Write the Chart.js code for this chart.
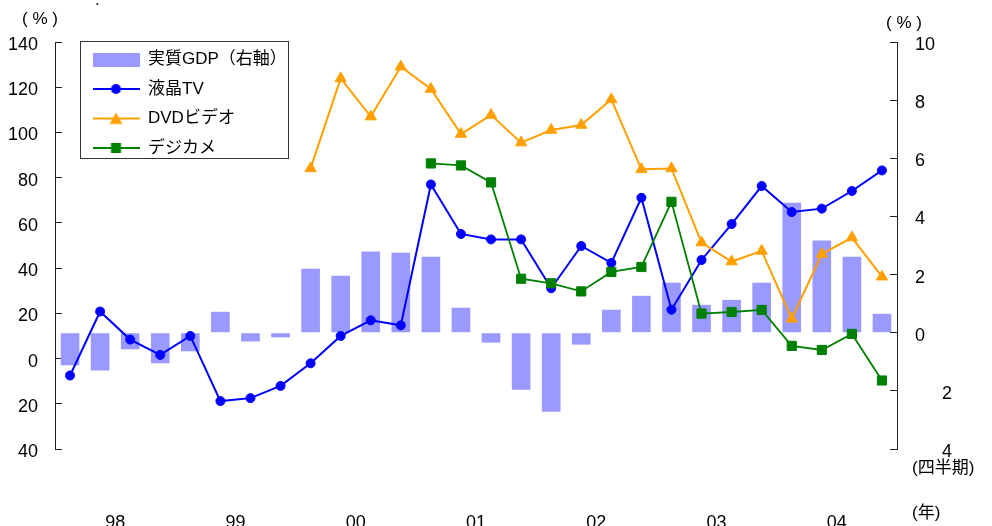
<!DOCTYPE html>
<html>
<head>
<meta charset="utf-8">
<script src="https://cdn.jsdelivr.net/npm/chart.js@4"></script>
<style>
body { margin: 0; background: #fff; }
#wrap { position: relative; width: 992px; height: 526px; overflow: hidden;
        font-family: "Liberation Sans", "Noto Sans CJK JP", sans-serif; }
#chart { position: absolute; left: 0; top: 0; }
.note { position: absolute; font-size: 17px; line-height: 1; color: #000; white-space: pre; }
</style>
</head>
<body>
<div id="wrap">
  <canvas id="chart" width="992" height="526"></canvas>
  <div class="note" style="left:95px;top:-9px">.</div>
  <div class="note" style="left:22px;top:10px">( % )</div>
  <div class="note" style="left:886px;top:14px">( % )</div>
  <div class="note" style="left:912px;top:459px">(四半期)</div>
  <div class="note" style="left:912px;top:504px">(年)</div>
</div>
<script>
// quarterly categories, 1998 Q1 .. 2004 Q4
const quarters = [
  '98Q1', '98Q2', '98Q3', '98Q4', '99Q1', '99Q2', '99Q3', '99Q4',
  '00Q1', '00Q2', '00Q3', '00Q4', '01Q1', '01Q2', '01Q3', '01Q4',
  '02Q1', '02Q2', '02Q3', '02Q4', '03Q1', '03Q2', '03Q3', '03Q4',
  '04Q1', '04Q2', '04Q3', '04Q4'
];
const years = ['98', '99', '00', '01', '02', '03', '04'];

// real GDP growth (right axis, %)
const gdp = [
  -1.12, -1.3, -0.57, -1.05, -0.64, 0.72, -0.3, -0.16,
  2.2, 1.96, 2.79, 2.75, 2.61, 0.86, -0.34, -1.96,
  -2.72, -0.41, 0.79, 1.27, 1.72, 0.96, 1.13, 1.72,
  4.47, 3.17, 2.61, 0.65
];
// LCD TV (left axis, %)
const lcdTv = [
  -7.5, 20.8, 8.4, 1.6, 10.0, -18.8, -17.5, -12.1,
  -2.1, 10.0, 16.9, 14.7, 77.0, 55.1, 52.7, 52.7,
  31.1, 49.8, 42.3, 71.1, 21.6, 43.6, 59.5, 76.3,
  64.8, 66.3, 74.1, 83.2
];
// DVD video
const dvdVideo = [
  null, null, null, null, null, null, null, null,
  84.1, 123.9, 107.0, 129.1, 119.2, 99.3, 107.7, 95.5,
  101.1, 103.3, 114.6, 83.7, 84.1, 51.3, 42.9, 47.6,
  17.6, 46.2, 53.5, 36.2
];
// digital camera
const digiCam = [
  null, null, null, null, null, null, null, null,
  null, null, null, null, 86.3, 85.4, 77.9, 35.3,
  33.3, 29.7, 38.3, 40.5, 69.3, 19.9, 20.6, 21.5,
  5.6, 3.8, 10.9, -9.7
];

const FONT = '"Liberation Sans", "Noto Sans CJK JP", sans-serif';
const BAR = '#9999FF', BLUE = '#0000FF', ORANGE = '#FFA000', GREEN = '#008000';

Chart.defaults.font.family = FONT;
Chart.defaults.color = '#000';

// legend glyphs: a short line with the series marker in the middle
function swatch(draw) {
  const c = document.createElement('canvas');
  c.width = 47; c.height = 14;
  draw(c.getContext('2d'));
  return c;
}
function lineSwatch(color, marker) {
  return swatch(ctx => {
    ctx.strokeStyle = color; ctx.fillStyle = color; ctx.lineWidth = 2;
    ctx.beginPath(); ctx.moveTo(0, 7); ctx.lineTo(47, 7); ctx.stroke();
    ctx.beginPath();
    if (marker === 'circle') ctx.arc(23.5, 7, 5, 0, Math.PI * 2);
    if (marker === 'triangle') { ctx.moveTo(23.5, 1); ctx.lineTo(30, 12.5); ctx.lineTo(17, 12.5); ctx.closePath(); }
    if (marker === 'rect') ctx.rect(18.5, 2, 10, 10);
    ctx.fill();
  });
}
const swatches = [
  swatch(ctx => { ctx.fillStyle = BAR; ctx.fillRect(0, 0, 47, 14); }),
  lineSwatch(BLUE, 'circle'),
  lineSwatch(ORANGE, 'triangle'),
  lineSwatch(GREEN, 'rect')
];

// legend sits inside the plot, framed; its own box is left tall so all rows stay in one column
const legendBox = { left: 80, top: 41, width: 208, height: 117 };
const legendFrame = {
  id: 'legendFrame',
  afterLayout(chart) {
    const lg = chart.legend;
    lg.left = legendBox.left;
    lg.top = legendBox.top - 2.5;
    lg.width = legendBox.width;
    lg.height = 200;
    lg.right = lg.left + lg.width;
    lg.bottom = lg.top + lg.height;
  },
  afterDraw(chart) {
    const ctx = chart.ctx;
    ctx.save();
    ctx.strokeStyle = '#333';
    ctx.lineWidth = 1;
    ctx.strokeRect(legendBox.left + 0.5, legendBox.top + 0.5, legendBox.width, legendBox.height);
    ctx.restore();
  }
};

const tickFont = { family: FONT, size: 18 };

new Chart(document.getElementById('chart'), {
  data: {
    labels: quarters,
    datasets: [
      {
        type: 'bar', label: '実質GDP（右軸）', data: gdp,
        backgroundColor: BAR, borderWidth: 0,
        barPercentage: 0.62, categoryPercentage: 1.0,
        xAxisID: 'x', yAxisID: 'yR', order: 4
      },
      {
        type: 'line', label: '液晶TV', data: lcdTv,
        borderColor: BLUE, backgroundColor: BLUE, borderWidth: 2,
        pointStyle: 'circle', pointRadius: 4.5, pointBorderWidth: 1,
        tension: 0, xAxisID: 'x', yAxisID: 'yL', order: 3
      },
      {
        type: 'line', label: 'DVDビデオ', data: dvdVideo,
        borderColor: ORANGE, backgroundColor: ORANGE, borderWidth: 2,
        pointStyle: 'triangle', pointRadius: 6.5, pointBorderWidth: 1,
        tension: 0, xAxisID: 'x', yAxisID: 'yL', order: 2
      },
      {
        type: 'line', label: 'デジカメ', data: digiCam,
        borderColor: GREEN, backgroundColor: GREEN, borderWidth: 1.8,
        pointStyle: 'rect', pointRadius: 6.5, pointBorderWidth: 1,
        tension: 0, xAxisID: 'x', yAxisID: 'yL', order: 1
      }
    ]
  },
  options: {
    responsive: false,
    animation: false,
    devicePixelRatio: 1,
    layout: { padding: { left: 0, right: 0, top: 42, bottom: 0 } },
    scales: {
      x: { type: 'category', display: false, offset: true },
      xYear: {
        type: 'linear', position: 'bottom', min: -0.5, max: 27.5,
        grid: { display: false, drawTicks: false },
        border: { display: false },
        afterBuildTicks: s => { s.ticks = years.map((y, i) => ({ value: i * 4 + 1.5 })); },
        afterFit: s => { s.height = 77; },
        ticks: {
          autoSkip: false, maxRotation: 0, padding: 63, font: tickFont, color: '#000',
          callback: (v, i) => years[i]
        }
      },
      yL: {
        type: 'linear', position: 'left', min: -40, max: 140,
        grid: { display: true, drawOnChartArea: false, drawTicks: true, tickLength: -7, color: '#222' },
        border: { display: true, color: '#222' },
        afterFit: s => { s.width = 55; },
        ticks: {
          stepSize: 20, padding: 24, labelOffset: 3, font: tickFont, color: '#000',
          callback: v => String(Math.abs(v))
        }
      },
      yR: {
        type: 'linear', position: 'right', min: -4, max: 10,
        grid: { display: true, drawOnChartArea: false, drawTicks: true, tickLength: -7, color: '#222' },
        border: { display: true, color: '#222' },
        afterFit: s => { s.width = 95; },
        ticks: {
          stepSize: 2, padding: 25, labelOffset: 3, font: tickFont, color: '#000',
          callback: v => v < 0 ? '\u2002\u2002\u2002' + Math.abs(v) : String(v)
        }
      }
    },
    plugins: {
      tooltip: { enabled: false },
      legend: {
        position: 'chartArea',
        align: 'start',
        labels: {
          usePointStyle: true,
          pointStyleWidth: 47,
          padding: 12.5,
          color: '#000',
          font: { family: FONT, size: 17 },
          sort: (a, b) => a.datasetIndex - b.datasetIndex,
          generateLabels(chart) {
            const items = Chart.defaults.plugins.legend.labels.generateLabels(chart);
            items.forEach(it => { it.pointStyle = swatches[it.datasetIndex]; });
            return items;
          }
        }
      }
    }
  },
  plugins: [legendFrame]
});
</script>
</body>
</html>
